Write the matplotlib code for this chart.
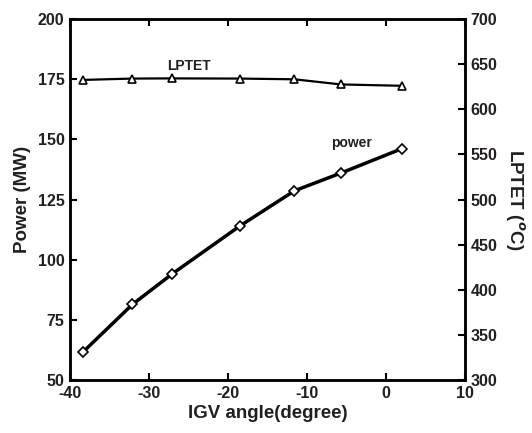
import matplotlib.pyplot as plt

plt.rcParams['font.family'] = 'Liberation Sans'
plt.rcParams['font.weight'] = 'bold'
plt.rcParams['axes.labelweight'] = 'bold'
plt.rcParams['axes.unicode_minus'] = False
plt.rcParams['mathtext.fontset'] = 'custom'
plt.rcParams['mathtext.rm'] = 'Liberation Sans:bold'
plt.rcParams['mathtext.bf'] = 'Liberation Sans:bold'

# data
igv = [-38.4, -32.1, -27.1, -18.5, -11.6, -5.7, 2.0]
power = [61.5, 81.4, 94.0, 114.0, 128.6, 136.0, 146.1]
lptet = [632.5, 634.0, 634.2, 634.0, 633.2, 627.5, 626.0]

xticks = [-40, -30, -20, -10, 0, 10]
yticks = [50, 75, 100, 125, 150, 175, 200]
y2ticks = [300, 350, 400, 450, 500, 550, 600, 650, 700]

txt = '#231f20'

fig = plt.figure(figsize=(5.32, 4.33), dpi=100)
ax = fig.add_axes([0.1316, 0.1224, 0.7424, 0.8337])
ax2 = ax.twinx()

ax.plot(igv, power, color='black', lw=2.5, marker='D', ms=5,
        mfc='white', mec='black', mew=1.2)
ax2.plot(igv, lptet, color='black', lw=1.6, marker='^', ms=5.5,
         mfc='white', mec='black', mew=1.2)

ax.set_xlim(-40, 10)
ax.set_ylim(50, 200)
ax2.set_ylim(300, 700)
ax.set_xticks(xticks, [str(v) for v in xticks], fontweight='bold')
ax.set_yticks(yticks, [str(v) for v in yticks], fontweight='bold')
ax2.set_yticks(y2ticks, [str(v) for v in y2ticks], fontweight='bold')

ax.tick_params(direction='in', length=5, width=1.5, labelsize=11.5,
               labelcolor=txt, top=True, pad=4)
ax2.tick_params(direction='in', length=5, width=1.5, labelsize=11.5,
                labelcolor=txt, pad=4)
for a in (ax, ax2):
    for s in a.spines.values():
        s.set_linewidth(1.8)

ax.set_xlabel('IGV angle(degree)', fontsize=13.5, color=txt, labelpad=3,
              fontweight='bold')
ax.set_ylabel('Power (MW)', fontsize=13.5, color=txt, labelpad=5,
              fontweight='bold')
ax2.set_ylabel('LPTET ($^{o}$C)', fontsize=13.5, color=txt, rotation=-90,
               labelpad=21, fontweight='bold')

ax.text(-24.9, 180.5, 'LPTET', fontsize=10, color=txt, ha='center',
        va='center', fontweight='bold')
ax.text(-4.4, 148.5, 'power', fontsize=10, color=txt, ha='center',
        va='center', fontweight='bold')

fig.savefig('out.png', dpi=100)
